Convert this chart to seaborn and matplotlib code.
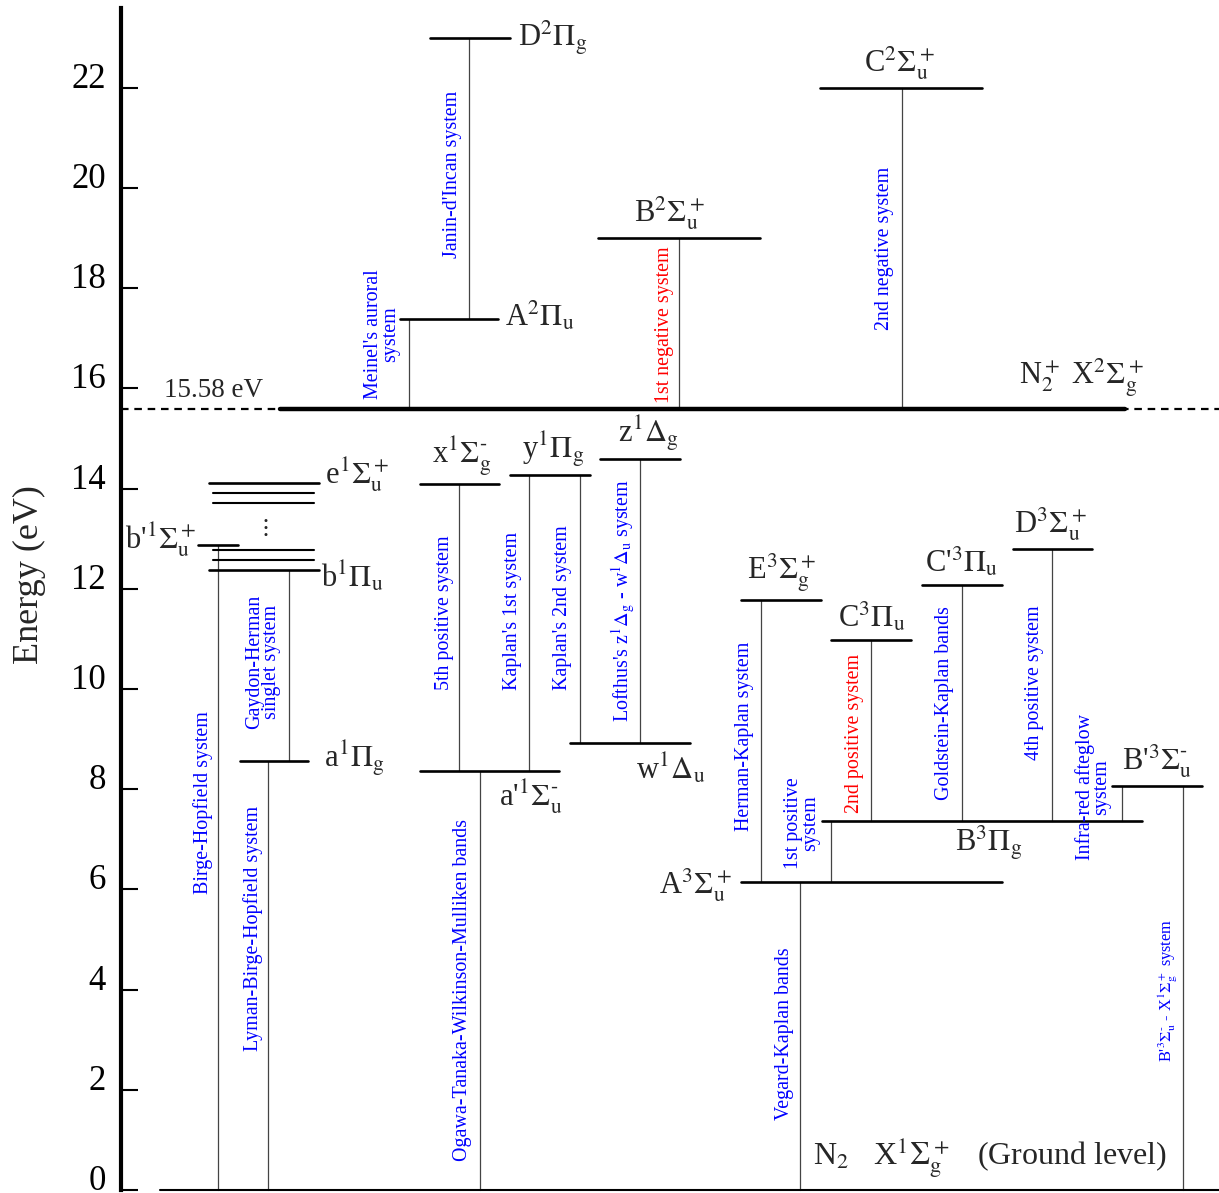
import numpy as np
import pandas as pd
import matplotlib
matplotlib.use("Agg")
import matplotlib.pyplot as plt
import seaborn as sns

# ---- data: energies (eV) ----
level_names = ["D2Pg", "C2Su", "B2Su", "A2Pu",
               "e1", "e2", "e3", "b1", "b2", "b3", "bp", "a1Pg",
               "x1Sg", "y1Pg", "z1Dg", "w1Du", "ap1Su",
               "E3Sg", "C3Pu", "Cp3Pu", "D3Su", "Bp3Su", "B3Pg", "A3Su"]
level_energy = [23.0, 22.0, 19.0, 17.38,
                14.11, 13.91, 13.71, 12.78, 12.58, 12.37, 12.87, 8.56,
                14.09, 14.26, 14.58, 8.93, 8.37,
                11.78, 10.98, 12.08, 12.79, 8.07, 7.37, 6.15]
ion_limit = 15.58
ground = 0.0

# transitions: (label, upper, lower)
trans_names = ["Meinel", "Janin", "1neg", "2neg",
               "BH", "GH", "LBH",
               "5pos", "K1", "K2", "Lofthus", "OTWM",
               "HK", "1pos", "2pos", "GK", "4pos", "IR", "BpX", "VK"]
trans_upper = ["A2Pu", "D2Pg", "B2Su", "C2Su",
               "bp", "b3", "a1Pg",
               "x1Sg", "y1Pg", "y1Pg", "z1Dg", "ap1Su",
               "E3Sg", "B3Pg", "C3Pu", "Cp3Pu", "D3Su", "Bp3Su", "Bp3Su", "A3Su"]
trans_lower = ["ionX", "A2Pu", "ionX", "ionX",
               "ground", "a1Pg", "ground",
               "ap1Su", "ap1Su", "w1Du", "w1Du", "ground",
               "A3Su", "A3Su", "B3Pg", "B3Pg", "B3Pg", "B3Pg", "ground", "ground"]
trans_text = ["Meinel's auroral\nsystem", "Janin-d'Incan system", "1st negative system",
              "2nd negative system", "Birge-Hopfield system", "Gaydon-Herman\nsinglet system",
              "Lyman-Birge-Hopfield system", "5th positive system", "Kaplan's 1st system",
              "Kaplan's 2nd system",
              r"Lofthus's z$^1\Delta_\mathrm{g}$ - w$^1\Delta_\mathrm{u}$ system",
              "Ogawa-Tanaka-Wilkinson-Mulliken bands", "Herman-Kaplan system",
              "1st positive\nsystem", "2nd positive system", "Goldstein-Kaplan bands",
              "4th positive system", "Infra-red afteglow\nsystem",
              "B'$^3\\Sigma_\\mathrm{u}^{\u2010}$ - X$^1\\Sigma_\\mathrm{g}^+$ system",
              "Vegard-Kaplan bands"]

state_text = {
    "D2Pg": r"D$^2\Pi_\mathrm{g}$", "C2Su": r"C$^2\Sigma_\mathrm{u}^+$",
    "B2Su": r"B$^2\Sigma_\mathrm{u}^+$", "A2Pu": r"A$^2\Pi_\mathrm{u}$",
    "e1": r"e$^1\Sigma_\mathrm{u}^+$", "b3": r"b$^1\Pi_\mathrm{u}$",
    "bp": r"b'$^1\Sigma_\mathrm{u}^+$", "a1Pg": r"a$^1\Pi_\mathrm{g}$",
    "x1Sg": "x$^1\\Sigma_\\mathrm{g}^{\u2010}$", "y1Pg": r"y$^1\Pi_\mathrm{g}$",
    "z1Dg": r"z$^1\Delta_\mathrm{g}$", "w1Du": r"w$^1\Delta_\mathrm{u}$",
    "ap1Su": "a'$^1\\Sigma_\\mathrm{u}^{\u2010}$", "E3Sg": r"E$^3\Sigma_\mathrm{g}^+$",
    "C3Pu": r"C$^3\Pi_\mathrm{u}$", "Cp3Pu": r"C'$^3\Pi_\mathrm{u}$",
    "D3Su": r"D$^3\Sigma_\mathrm{u}^+$", "Bp3Su": "B'$^3\\Sigma_\\mathrm{u}^{\u2010}$",
    "B3Pg": r"B$^3\Pi_\mathrm{g}$", "A3Su": r"A$^3\Sigma_\mathrm{u}^+$",
}

# ---- layout (pixel-like x positions) ----
level_x = {
    "D2Pg": (430, 510), "C2Su": (820, 982), "B2Su": (598, 760), "A2Pu": (400, 498),
    "e1": (209, 319), "e2": (213, 314), "e3": (213, 314),
    "b1": (213, 314), "b2": (213, 314), "b3": (209, 319), "bp": (198, 238),
    "a1Pg": (240, 308), "x1Sg": (420, 499), "y1Pg": (510, 590), "z1Dg": (600, 680),
    "w1Du": (570, 690), "ap1Su": (420, 559), "E3Sg": (741, 821), "C3Pu": (831, 911),
    "Cp3Pu": (922, 1002), "D3Su": (1013, 1092), "Bp3Su": (1112, 1202),
    "B3Pg": (822, 1142), "A3Su": (741, 1002),
}
thin_levels = {"e2", "e3", "b1", "b2"}
trans_x = [409, 469, 679, 902, 218, 289, 268, 459, 529, 580, 640, 480,
           761, 831, 871, 962, 1052, 1122, 1183, 800]
# label position (x, y in eV)
trans_lab = [(382, 17.09), (452, 20.26), (665, 17.27), (885, 18.80),
             (203, 7.74), (263, 10.54), (253, 5.23),
             (444, 11.52), (512, 11.56), (563, 11.62), (623, 11.76), (463, 3.99),
             (745, 9.06), (802, 7.33), (855, 9.12), (945, 9.72), (1035, 10.12),
             (1093, 8.04), (1168, 3.99), (785, 3.11)]
red_trans = {"1neg", "2pos"}

sns.set_theme(style="white")
plt.rcParams["font.family"] = ["Liberation Serif", "DejaVu Serif"]
plt.rcParams["mathtext.fontset"] = "stix"

energy = dict(zip(level_names, level_energy))
energy["ionX"] = ion_limit
energy["ground"] = ground

fig = plt.figure(figsize=(12.19, 11.93), dpi=100)
ax = fig.add_axes([0, 0, 1, 1])
ax.set_xlim(0, 1219)
ax.set_ylim(-0.06, 23.75)

# level segments
rows = []
for n in level_names:
    x0, x1 = level_x[n]
    rows += [(n, x0, energy[n], n in thin_levels), (n, x1, energy[n], n in thin_levels)]
lev = pd.DataFrame(rows, columns=["id", "x", "y", "thin"])
sns.lineplot(data=lev[~lev.thin], x="x", y="y", units="id", estimator=None, sort=False,
             color="black", lw=1.9, ax=ax, legend=False, zorder=3)
sns.lineplot(data=lev[lev.thin], x="x", y="y", units="id", estimator=None, sort=False,
             color="black", lw=1.5, ax=ax, legend=False, zorder=3)

# ground and ionisation limit
base = pd.DataFrame({"id": ["g", "g", "i", "i"], "x": [160, 1219, 280, 1125],
                     "y": [ground, ground, ion_limit, ion_limit]})
sns.lineplot(data=base[base.id == "g"], x="x", y="y", estimator=None, sort=False,
             color="black", lw=1.5, ax=ax, zorder=3)
sns.lineplot(data=base[base.id == "i"], x="x", y="y", estimator=None, sort=False,
             color="black", lw=3.2, ax=ax, zorder=3)
ax.plot([121, 1219], [ion_limit, ion_limit], color="black", lw=1.6,
        ls=(0, (3.4, 2.6)), zorder=2)

# transition lines
rows = []
for n, xx, u, l in zip(trans_names, trans_x, trans_upper, trans_lower):
    rows += [(n, xx, energy[u]), (n, xx, energy[l])]
tr = pd.DataFrame(rows, columns=["id", "x", "y"])
sns.lineplot(data=tr, x="x", y="y", units="id", estimator=None, sort=False,
             color="#444444", lw=0.9, ax=ax, legend=False, zorder=2)

for n, txt, (lx, ly) in zip(trans_names, trans_text, trans_lab):
    fs = 11.8 if n == "BpX" else 14.4
    ax.text(lx, ly, txt, rotation=90, ha="center", va="center", fontsize=fs,
            color="red" if n in red_trans else "blue", linespacing=0.85,
            multialignment="center")

# state labels
fs = 22
above = {"C2Su": 900, "B2Su": 670, "x1Sg": 462, "y1Pg": 553, "z1Dg": 648,
         "E3Sg": 782, "C3Pu": 872, "Cp3Pu": 962, "D3Su": 1050, "Bp3Su": 1157}
for n, xc in above.items():
    ax.text(xc, energy[n] + 0.12, state_text[n], ha="center", va="bottom", fontsize=fs)
right = {"D2Pg": (518, 0.0), "A2Pu": (505, 0.07), "e1": (325, 0.16), "b3": (321, -0.13),
         "a1Pg": (324, 0.06), "w1Du": (636, -0.51), "ap1Su": (499, -0.53),
         "B3Pg": (955, -0.44)}
for n, (xl, dy) in right.items():
    ax.text(xl, energy[n] + dy, state_text[n], ha="left", va="center", fontsize=fs)
ax.text(197, energy["bp"] + 0.1, state_text["bp"], ha="right", va="center", fontsize=fs)
ax.text(732, energy["A3Su"] - 0.06, state_text["A3Su"], ha="right", va="center", fontsize=fs)
ax.text(264, 13.2, r"$\vdots$", ha="center", va="center", fontsize=17)

ax.text(1019, ion_limit + 0.2, r"N$_2^+$ X$^2\Sigma_\mathrm{g}^+$", ha="left",
        va="bottom", fontsize=fs)
ax.text(813, ground + 0.2, r"N$_2$   X$^1\Sigma_\mathrm{g}^+$   (Ground level)",
        ha="left", va="bottom", fontsize=23)
ax.text(214, 15.96, "15.58 eV", ha="center", va="center", fontsize=19.5)
ax.text(29, 12.28, "Energy (eV)", rotation=90, ha="center", va="center", fontsize=26)

# axis
for s in ["top", "right", "bottom"]:
    ax.spines[s].set_visible(False)
ax.spines["left"].set_position(("data", 121))
ax.spines["left"].set_linewidth(3)
ax.spines["left"].set_bounds(0, 23.6)
ax.spines["left"].set_color("black")
ax.set_yticks(np.arange(0, 23, 2))
ax.set_xticks([])
ax.tick_params(axis="y", direction="in", length=12.5, width=1.5, labelsize=25,
               pad=11, left=True, colors="black")
for lab in ax.get_yticklabels():
    lab.set_verticalalignment("baseline")
ax.set_xlabel("")
ax.set_ylabel("")
ax.grid(False)

fig.savefig("out.png", dpi=100)
